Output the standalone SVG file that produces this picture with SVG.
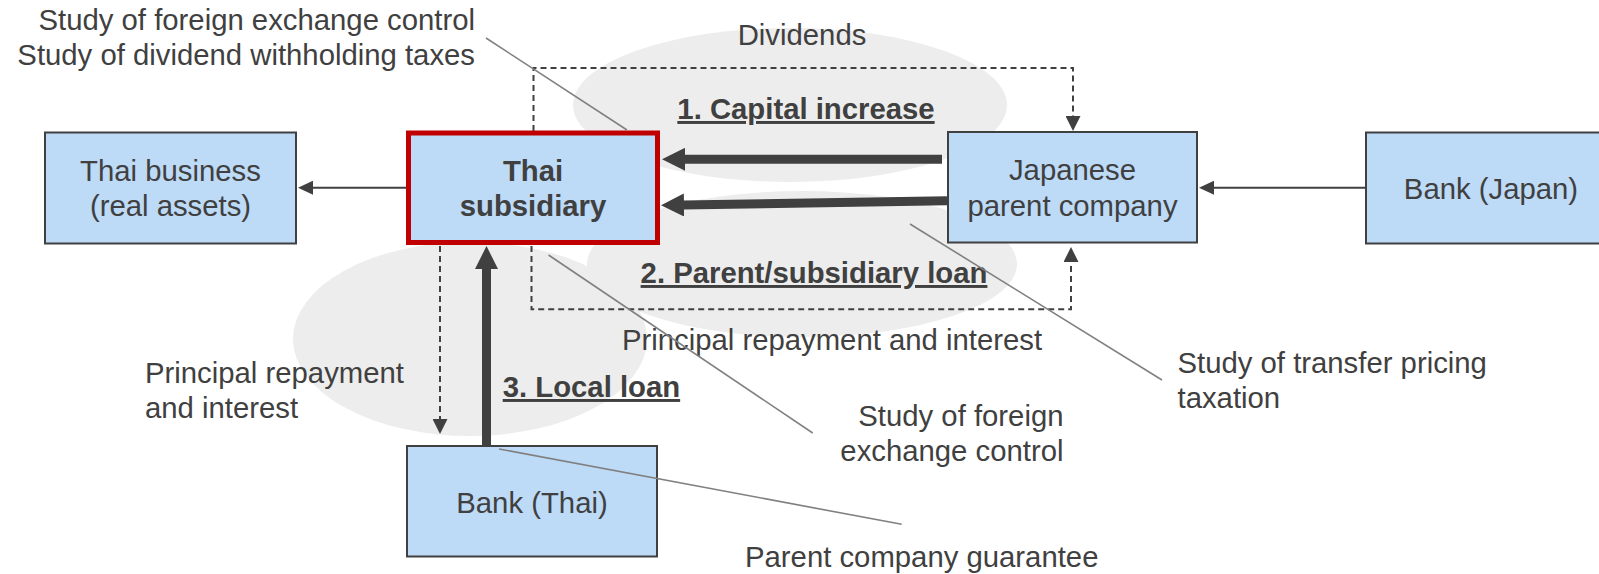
<svg xmlns="http://www.w3.org/2000/svg" width="1599" height="574" viewBox="0 0 1599 574">
<style>
  .bg { fill: #ffffff; }
  .blob { fill: #ededed; }
  .box { fill: #bddaf7; stroke: #404040; stroke-width: 2; }
  .box-main { fill: #bddaf7; stroke: #c00000; stroke-width: 5; }
  .t { font-family: "Liberation Sans", Arial, sans-serif; font-size: 29.3px; fill: #404040; }
  .b { font-weight: bold; }
  .u { text-decoration: underline; }
  .mid { text-anchor: middle; }
  .end { text-anchor: end; }
  .thin { fill: none; stroke: #404040; stroke-width: 2; }
  .thick { fill: none; stroke: #404040; stroke-width: 9; }
  .dash { fill: none; stroke: #404040; stroke-width: 2; stroke-dasharray: 6 4; }
  .callout { fill: none; stroke: #808080; stroke-width: 1.6; }
</style>
<defs>
  <marker id="ah-thin" viewBox="0 0 15 14" refX="1" refY="7" markerWidth="15" markerHeight="14" markerUnits="userSpaceOnUse" orient="auto">
    <path d="M0,0 L15,7 L0,14 Z" fill="#404040"/>
  </marker>
  <marker id="ah-dash" viewBox="0 0 15 15" refX="1" refY="7.5" markerWidth="15" markerHeight="15" markerUnits="userSpaceOnUse" orient="auto">
    <path d="M0,0 L15,7.5 L0,15 Z" fill="#404040"/>
  </marker>
  <marker id="ah-thick" viewBox="0 0 23 23" refX="1" refY="11.5" markerWidth="23" markerHeight="23" markerUnits="userSpaceOnUse" orient="auto">
    <path d="M0,0 L23,11.5 L0,23 Z" fill="#404040"/>
  </marker>
</defs>
<rect class="bg" x="0" y="0" width="1599" height="574"/>

<g id="backgrounds">
  <ellipse class="blob" cx="790" cy="105" rx="217" ry="77"/>
  <ellipse class="blob" cx="802" cy="264" rx="215" ry="73"/>
  <ellipse class="blob" cx="470" cy="339" rx="177" ry="97"/>
</g>

<g id="node-thai-business">
  <rect class="box" x="45" y="132.5" width="251" height="111"/>
  <text class="t mid" x="170.5" y="181">Thai business</text>
  <text class="t mid" x="170.5" y="216">(real assets)</text>
</g>
<g id="node-thai-subsidiary">
  <rect class="box-main" x="408.5" y="133" width="249" height="109.5"/>
  <text class="t b mid" x="533" y="181">Thai</text>
  <text class="t b mid" x="533" y="216">subsidiary</text>
</g>
<g id="node-japanese-parent">
  <rect class="box" x="948" y="132" width="249" height="110.5"/>
  <text class="t mid" x="1072.5" y="180">Japanese</text>
  <text class="t mid" x="1072.5" y="216">parent company</text>
</g>
<g id="node-bank-japan">
  <rect class="box" x="1366" y="132.5" width="260" height="111"/>
  <text class="t mid" x="1491" y="199">Bank (Japan)</text>
</g>
<g id="node-bank-thai">
  <rect class="box" x="407" y="446" width="250" height="110.5"/>
  <text class="t mid" x="532" y="513">Bank (Thai)</text>
</g>

<g id="connectors">
  <path class="thin" d="M406,187.7 L312,187.7" marker-end="url(#ah-thin)"/>
  <path class="thin" d="M1366,187.7 L1213,187.7" marker-end="url(#ah-thin)"/>
  <path class="thick" d="M942,159.3 L684,159.3" marker-end="url(#ah-thick)"/>
  <path class="thick" d="M947,200.7 L683,205" marker-end="url(#ah-thick)"/>
  <path class="thick" d="M486.5,446 L486.5,268" marker-end="url(#ah-thick)"/>
  <path class="dash" d="M533.5,131 V68 H1073 V117" marker-end="url(#ah-dash)"/>
  <path class="dash" d="M531.5,246 V309.3 H1071 V261" marker-end="url(#ah-dash)"/>
  <path class="dash" d="M440,246 V420" marker-end="url(#ah-dash)"/>
</g>

<g id="labels">
  <text class="t end" x="475" y="30">Study of foreign exchange control</text>
  <text class="t end" x="475" y="65">Study of dividend withholding taxes</text>
  <text class="t mid" x="802" y="45">Dividends</text>
  <text class="t b u mid" x="806" y="119">1. Capital increase</text>
  <text class="t b u mid" x="814" y="283">2. Parent/subsidiary loan</text>
  <text class="t mid" x="832" y="350">Principal repayment and interest</text>
  <text class="t" x="145" y="383">Principal repayment</text>
  <text class="t" x="145" y="418">and interest</text>
  <text class="t b u" x="502.7" y="397">3. Local loan</text>
  <text class="t end" x="1063.5" y="426">Study of foreign</text>
  <text class="t end" x="1063.5" y="461">exchange control</text>
  <text class="t" x="1177.5" y="373">Study of transfer pricing</text>
  <text class="t" x="1177.5" y="408">taxation</text>
  <text class="t" x="745" y="567">Parent company guarantee</text>
</g>

<g id="callouts">
  <path class="callout" d="M486,38 L627,130"/>
  <path class="callout" d="M548.5,255 L812.7,433"/>
  <path class="callout" d="M910,224 L1162,380"/>
  <path class="callout" d="M499,449 L901.7,524.3"/>
</g>
</svg>
